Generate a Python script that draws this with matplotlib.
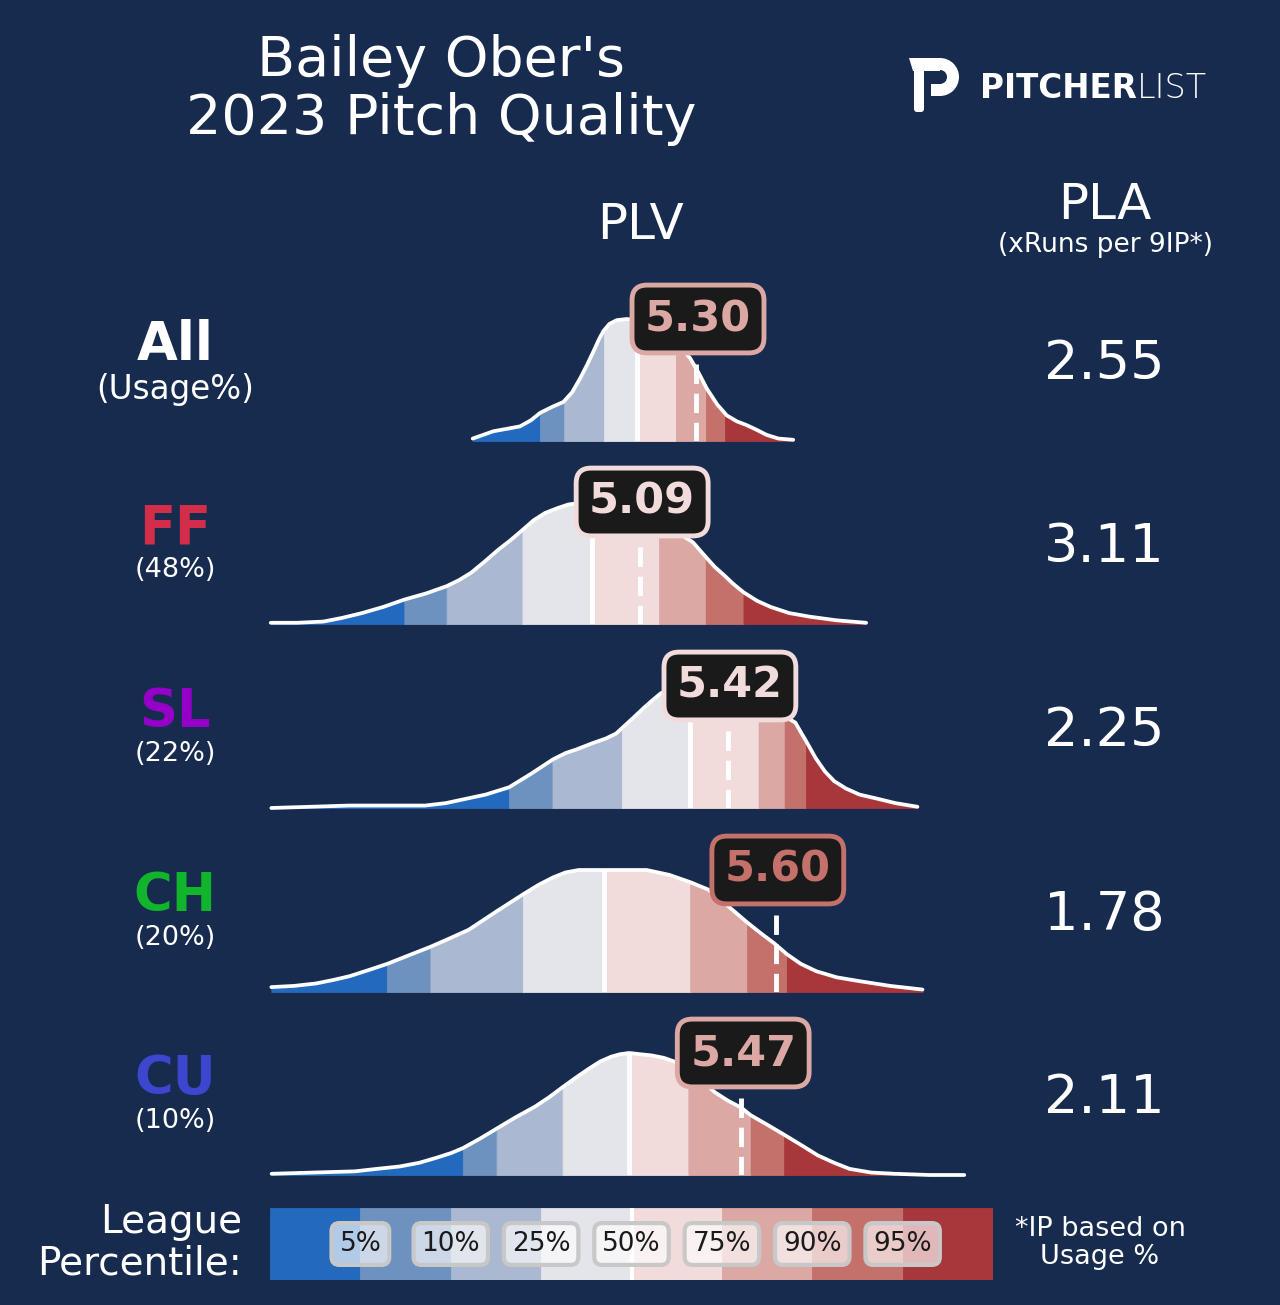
import numpy as np
import matplotlib.pyplot as plt
from matplotlib.patches import Wedge, Polygon, FancyBboxPatch, Rectangle

BG = '#172b4f'
W, H = 1280, 1305

#%% data
title = "Bailey Ober's\n2023 Pitch Quality"
pitches = ['All', 'FF', 'SL', 'CH', 'CU']
usage = ['(Usage%)', '(48%)', '(22%)', '(20%)', '(10%)']
pitch_colors = ['white', '#d22d49', '#9400c8', '#10b52c', '#3c46cf']
plv = [5.30, 5.09, 5.42, 5.60, 5.47]
pla = ['2.55', '3.11', '2.25', '1.78', '2.11']
pct_labels = ['5%', '10%', '25%', '50%', '75%', '90%', '95%']

# league PLV at 5/10/25/50/75/90/95 percentile for each pitch
cuts_all = [4.714, 4.805, 4.955, 5.078, 5.225, 5.338, 5.410]
cuts_ff = [4.204, 4.363, 4.648, 4.910, 5.162, 5.337, 5.479]
cuts_sl = [4.598, 4.761, 5.022, 5.278, 5.536, 5.634, 5.714]
cuts_ch = [4.139, 4.302, 4.650, 4.956, 5.279, 5.493, 5.642]
cuts_cu = [4.424, 4.551, 4.799, 5.049, 5.272, 5.506, 5.632]

# league PLV density (relative to peak)
all_x = [4.461, 4.500, 4.539, 4.590, 4.639, 4.680, 4.714, 4.760, 4.802, 4.835, 4.864,
         4.890, 4.914, 4.935, 4.952, 4.975, 5.002, 5.040, 5.075, 5.109, 5.140, 5.165,
         5.195, 5.222, 5.250, 5.278, 5.310, 5.341, 5.380, 5.416, 5.455, 5.491, 5.530,
         5.566, 5.610, 5.666]
all_y = [0.02, 0.05, 0.08, 0.10, 0.12, 0.17, 0.23, 0.28, 0.32, 0.40, 0.51,
         0.62, 0.73, 0.83, 0.90, 0.96, 0.99, 1.00, 0.99, 0.98, 0.96, 0.93,
         0.88, 0.82, 0.75, 0.68, 0.56, 0.43, 0.30, 0.21, 0.16, 0.13, 0.09,
         0.05, 0.02, 0.01]

ff_x = [3.702, 3.800, 3.900, 3.970, 4.046, 4.125, 4.204, 4.285, 4.363, 4.410, 4.455,
        4.505, 4.558, 4.605, 4.648, 4.690, 4.733, 4.780, 4.821, 4.860, 4.902, 4.940,
        4.977, 5.015, 5.052, 5.090, 5.128, 5.165, 5.203, 5.245, 5.289, 5.337, 5.370,
        5.406, 5.440, 5.479, 5.530, 5.581, 5.650, 5.728, 5.830, 5.940]
ff_y = [0.01, 0.01, 0.02, 0.05, 0.09, 0.14, 0.20, 0.25, 0.31, 0.36, 0.42,
        0.51, 0.61, 0.69, 0.77, 0.85, 0.91, 0.95, 0.98, 0.99, 1.00, 0.99,
        0.98, 0.96, 0.93, 0.90, 0.86, 0.82, 0.78, 0.73, 0.67, 0.55, 0.47,
        0.40, 0.33, 0.26, 0.19, 0.14, 0.09, 0.06, 0.03, 0.01]

sl_x = [3.704, 3.850, 3.997, 4.140, 4.282, 4.360, 4.424, 4.510, 4.598, 4.680, 4.764,
        4.810, 4.851, 4.910, 4.962, 5.000, 5.025, 5.065, 5.104, 5.135, 5.168, 5.200,
        5.240, 5.280, 5.316, 5.355, 5.391, 5.430, 5.466, 5.505, 5.541, 5.580, 5.616,
        5.650, 5.674, 5.695, 5.714, 5.750, 5.785, 5.820, 5.864, 5.915, 5.975, 6.050,
        6.133]
sl_y = [0.00, 0.01, 0.02, 0.02, 0.02, 0.04, 0.07, 0.11, 0.17, 0.28, 0.40,
        0.45, 0.48, 0.53, 0.57, 0.61, 0.66, 0.74, 0.82, 0.88, 0.94, 0.97,
        0.99, 1.00, 1.00, 0.99, 0.98, 0.95, 0.92, 0.88, 0.84, 0.80, 0.77,
        0.73, 0.70, 0.62, 0.55, 0.41, 0.30, 0.22, 0.16, 0.11, 0.08, 0.04,
        0.01]

ch_x = [3.704, 3.790, 3.872, 3.940, 3.999, 4.070, 4.139, 4.220, 4.302, 4.375, 4.446,
        4.550, 4.650, 4.710, 4.764, 4.810, 4.860, 4.910, 4.956, 5.035, 5.115, 5.200,
        5.279, 5.346, 5.391, 5.434, 5.493, 5.545, 5.594, 5.642, 5.695, 5.753, 5.830,
        5.912, 6.030, 6.152]
ch_y = [0.04, 0.05, 0.07, 0.10, 0.13, 0.18, 0.23, 0.30, 0.37, 0.44, 0.51,
        0.66, 0.80, 0.88, 0.94, 0.98, 1.00, 1.00, 1.00, 1.00, 1.00, 0.96,
        0.90, 0.84, 0.76, 0.68, 0.57, 0.48, 0.40, 0.31, 0.23, 0.17, 0.12,
        0.09, 0.05, 0.02]

cu_x = [3.705, 3.860, 4.018, 4.100, 4.187, 4.260, 4.323, 4.380, 4.424, 4.490, 4.551,
        4.620, 4.695, 4.750, 4.799, 4.850, 4.897, 4.940, 4.982, 5.015, 5.049, 5.090,
        5.134, 5.180, 5.219, 5.260, 5.297, 5.335, 5.370, 5.420, 5.472, 5.506, 5.570,
        5.632, 5.700, 5.759, 5.820, 5.878, 5.960, 6.047, 6.180, 6.309]
cu_y = [0.01, 0.02, 0.03, 0.05, 0.07, 0.10, 0.14, 0.18, 0.22, 0.30, 0.38,
        0.47, 0.56, 0.64, 0.72, 0.80, 0.87, 0.93, 0.97, 0.99, 1.00, 0.99,
        0.98, 0.96, 0.93, 0.88, 0.82, 0.75, 0.68, 0.61, 0.55, 0.49, 0.41,
        0.33, 0.24, 0.16, 0.10, 0.05, 0.02, 0.01, 0.00, 0.00]

curves = [(all_x, all_y), (ff_x, ff_y), (sl_x, sl_y), (ch_x, ch_y), (cu_x, cu_y)]
cuts = [cuts_all, cuts_ff, cuts_sl, cuts_ch, cuts_cu]

pal = ['#2369bd', '#6e92c0', '#aab9d1', '#e4e5ea', '#f2dcdb', '#dba8a4', '#c4706b', '#a8373b']

#%% figure
fig = plt.figure(figsize=(W / 100, H / 100), dpi=100, facecolor=BG)

# full-figure axes in pixel coords for the text
bg = fig.add_axes([0, 0, 1, 1])
bg.set_xlim(0, W)
bg.set_ylim(H, 0)
bg.axis('off')
bg.set_facecolor(BG)

bg.text(441, 90, title, color='white', fontsize=40, ha='center', va='center',
        linespacing=1.1)
bg.text(641, 225, 'PLV', color='white', fontsize=36, ha='center', va='center')
bg.text(1105, 205, 'PLA', color='white', fontsize=36, ha='center', va='center')
bg.text(1105, 245, '(xRuns per 9IP*)', color='white', fontsize=19, ha='center', va='center')

# logo
bg.add_patch(Polygon([(909, 58), (940, 58), (940, 71), (913, 71)], closed=True, fc='white', ec='none'))
bg.add_patch(Wedge((940, 77), 19, -90, 90, width=12, fc='white', ec='none'))
bg.add_patch(Rectangle((931, 84), 10, 12, fc='white', ec='none'))
bg.add_patch(FancyBboxPatch((914, 66), 10, 46, boxstyle='round,pad=0,rounding_size=3',
                            fc='white', ec='none'))
bg.text(1137, 89, 'PITCHER', color='white', fontsize=23.5, fontweight='bold',
        ha='right', va='center')
bg.text(1137, 89, 'LIST', color='white', fontsize=24, fontweight='light',
        ha='left', va='center')

baselines = [441, 624, 808, 992, 1175]
x_left, x_right = 270, 993
xlim = (3.699, 6.417)
peak_px = 122
ax_h = 160

for i, p in enumerate(pitches):
    base = baselines[i]
    bg.text(175, base - 96, p, color=pitch_colors[i], fontsize=38, fontweight='bold',
            ha='center', va='center')
    if i == 0:
        bg.text(175, base - 52, usage[i], color='white', fontsize=23.5, ha='center', va='center')
    else:
        bg.text(175, base - 54, usage[i], color='white', fontsize=19.5, ha='center', va='center')
    bg.text(1104, base - 77, pla[i], color='white', fontsize=39, ha='center', va='center')

    ax = fig.add_axes([x_left / W, 1 - base / H, (x_right - x_left) / W, ax_h / H])
    ax.set_xlim(*xlim)
    ax.set_ylim(0, ax_h / peak_px)
    ax.axis('off')

    x = np.array(curves[i][0])
    y = np.array(curves[i][1])
    edges = [x[0]] + list(cuts[i]) + [x[-1]]
    for k in range(8):
        lo, hi = edges[k], edges[k + 1]
        xs = np.concatenate([[lo], x[(x > lo) & (x < hi)], [hi]])
        ys = np.interp(xs, x, y)
        ax.fill_between(xs, 0, ys, facecolor=pal[k], edgecolor=pal[k], lw=0.6, zorder=1)
    # median line
    med = cuts[i][3]
    ax.plot([med, med], [0, np.interp(med, x, y)], color='white', lw=3.5, zorder=2,
            solid_capstyle='butt')
    ax.plot(x, y, color='white', lw=2.7, zorder=3, clip_on=False,
            solid_capstyle='round', solid_joinstyle='round')

    # pitcher value
    v = plv[i]
    band = int(np.searchsorted(cuts[i], v))
    c = pal[band]
    ax.plot([v, v], [0.63, 0], color='white', lw=3.5, dashes=(4, 2), zorder=4,
            dash_capstyle='butt')
    ax.text(v + 0.008, 1.0, f'{v:.2f}', color=c, fontsize=31, fontweight='bold',
            ha='center', va='center', zorder=5,
            bbox=dict(boxstyle='round,pad=0.3,rounding_size=0.35', fc='#1a1a1a', ec=c, lw=3.5))

# legend bar
lax = fig.add_axes([x_left / W, 1 - 1280 / H, (x_right - x_left) / W, 72 / H])
lax.set_xlim(0, 8)
lax.set_ylim(0, 1)
lax.axis('off')
lax.bar(np.arange(8) + 0.5, 1, width=1.0, color=pal, edgecolor=pal, lw=0.6)
lax.plot([4, 4], [0, 1], color='white', lw=3, solid_capstyle='butt')
for k, lab in enumerate(pct_labels):
    lax.text(k + 1, 0.5, lab, color='#1a1a1a', fontsize=19, ha='center', va='center',
             bbox=dict(boxstyle='round,pad=0.3', fc=(1, 1, 1, 0.65), ec='#c8c8c8', lw=3))

bg.text(242, 1243, 'League\nPercentile:', color='white', fontsize=28, ha='right',
        va='center', linespacing=1.12, multialignment='right')
bg.text(1100, 1243, '*IP based on\nUsage %', color='white', fontsize=19.5, ha='center',
        va='center', linespacing=1.15)

fig.savefig('out.png', dpi=100, facecolor=BG)
